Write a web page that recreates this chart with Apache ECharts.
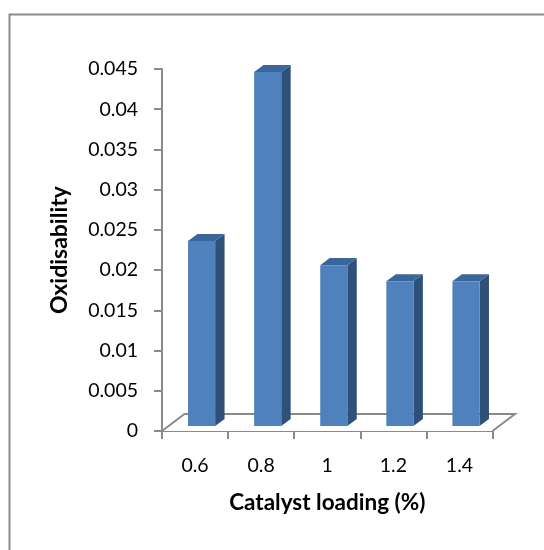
<!DOCTYPE html>
<html>
<head>
<meta charset="utf-8">
<script src="https://cdn.jsdelivr.net/npm/echarts@6/dist/echarts.min.js"></script>
<style>
  html, body { margin: 0; padding: 0; background: #fff; }
  #chart { width: 544px; height: 550px; }
</style>
</head>
<body>
<div id="chart"></div>
<script>
// Catalyst loading (%) categories and measured oxidisability
const categories = ['0.6', '0.8', '1', '1.2', '1.4'];
const oxidisability = [0.023, 0.044, 0.020, 0.018, 0.018];

// Value axis range
const yMin = 0;
const yMax = 0.045;
const yStep = 0.005;

const FONT = 'Lato, "Open Sans", sans-serif';
const AXIS_GRAY = '#8a8a8a';

// Pseudo-3D depth of the floor (pixels) and the slice of it a column occupies
const FLOOR_DX = 22.5;
const FLOOR_DY = -17;
const DEPTH_FRONT = 0.29;
const DEPTH_BACK = 0.71;
const BAR_RATIO = 0.41;

const chart = echarts.init(document.getElementById('chart'), null, { renderer: 'canvas' });

function renderFloor(params, api) {
  const first = api.coord([0, 0]);
  const last = api.coord([categories.length - 1, 0]);
  const band = api.size([1, 0])[0];
  const x0 = first[0] - band / 2;
  const x1 = last[0] + band / 2;
  const y = first[1];
  return {
    type: 'group',
    children: [
      {
        type: 'polygon',
        shape: { points: [[x0, y], [x1, y], [x1 + FLOOR_DX, y + FLOOR_DY], [x0 + FLOOR_DX, y + FLOOR_DY]] },
        style: { fill: '#ffffff', stroke: null }
      },
      {
        type: 'polyline',
        shape: { points: [[x0, y], [x0 + FLOOR_DX, y + FLOOR_DY], [x1 + FLOOR_DX, y + FLOOR_DY], [x1, y]] },
        style: { fill: null, stroke: AXIS_GRAY, lineWidth: 2 }
      }
    ]
  };
}

function renderColumn(params, api) {
  const idx = api.value(0);
  const val = api.value(1);
  const base = api.coord([idx, 0]);
  const top = api.coord([idx, val]);
  const band = api.size([1, 0])[0];
  const w = band * BAR_RATIO;
  const fx = FLOOR_DX * DEPTH_FRONT, fy = FLOOR_DY * DEPTH_FRONT;
  const bx = FLOOR_DX * DEPTH_BACK, by = FLOOR_DY * DEPTH_BACK;
  const ddx = bx - fx, ddy = by - fy;
  const left = base[0] - w / 2 + fx;
  const right = left + w;
  const yTop = top[1] + fy;
  const yBot = base[1] + fy;
  return {
    type: 'group',
    children: [
      {
        type: 'polygon',
        shape: { points: [[right, yBot], [right + ddx, yBot + ddy], [right + ddx, yTop + ddy], [right, yTop]] },
        style: { fill: '#2f5079' }
      },
      {
        type: 'polygon',
        shape: { points: [[left, yTop], [right, yTop], [right + ddx, yTop + ddy], [left + ddx, yTop + ddy]] },
        style: { fill: '#3b669b' }
      },
      {
        type: 'rect',
        shape: { x: left, y: yTop, width: w, height: yBot - yTop },
        style: { fill: '#4f81bd' }
      }
    ]
  };
}

const option = {
  backgroundColor: '#ffffff',
  animation: false,
  graphic: [
    {
      type: 'rect',
      left: 7, top: 12,
      shape: { x: 0, y: 0, width: 600, height: 600 },
      style: { fill: null, stroke: '#8c8c8c', lineWidth: 2 },
      silent: true
    }
  ],
  grid: { left: 162, right: 51.5, top: 69, bottom: 119, containLabel: false },
  xAxis: {
    type: 'category',
    data: categories,
    boundaryGap: true,
    name: 'Catalyst loading (%)',
    nameLocation: 'middle',
    nameGap: 60,
    nameTextStyle: { fontFamily: FONT, fontWeight: 'bold', fontSize: 22.5, color: '#000' },
    axisLine: { lineStyle: { color: AXIS_GRAY, width: 2 } },
    axisTick: { show: true, length: 8, lineStyle: { color: AXIS_GRAY, width: 2 } },
    axisLabel: { fontFamily: FONT, fontSize: 19.5, color: '#000', margin: 25 },
    splitLine: { show: false }
  },
  yAxis: {
    type: 'value',
    min: yMin,
    max: yMax,
    interval: yStep,
    name: 'Oxidisability',
    nameLocation: 'middle',
    nameRotate: 90,
    nameGap: 91,
    nameTextStyle: { fontFamily: FONT, fontWeight: 'bold', fontSize: 23, color: '#000' },
    axisLine: { show: true, lineStyle: { color: AXIS_GRAY, width: 2 } },
    axisTick: { show: true, length: 8, lineStyle: { color: AXIS_GRAY, width: 2 } },
    axisLabel: { fontFamily: FONT, fontSize: 19.5, color: '#000', margin: 24 },
    splitLine: { show: false }
  },
  series: [
    {
      type: 'custom',
      name: 'floor',
      z: 1,
      renderItem: renderFloor,
      data: [[0, 0]],
      silent: true
    },
    {
      type: 'custom',
      name: 'Oxidisability',
      z: 3,
      renderItem: renderColumn,
      encode: { x: 0, y: 1 },
      data: oxidisability.map((v, i) => [i, v])
    }
  ]
};

chart.setOption(option);
</script>
</body>
</html>
